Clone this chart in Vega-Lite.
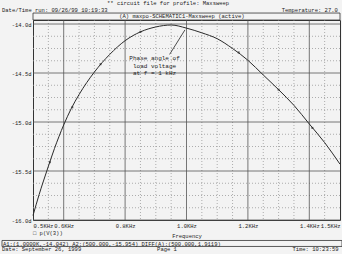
{
  "$schema": "https://vega.github.io/schema/vega-lite/v6.json",
  "width": 307,
  "height": 200,
  "autosize": "none",
  "padding": {"left": 33, "top": 20, "right": 2, "bottom": 34},
  "background": "#f3f3f3",
  "config": {
    "view": {"stroke": "#333333", "strokeWidth": 1, "fill": "#f3f3f3"},
    "font": "Liberation Mono",
    "axis": {"domain": false, "ticks": false, "grid": false, "labelFont": "Liberation Mono", "labelFontSize": 5.5, "labelColor": "#222222", "titleFont": "Liberation Mono", "titleFontSize": 5.5, "titleFontWeight": "normal", "titleColor": "#222222"}
  },
  "datasets": {
    "curve": [
      {"f": 0.5, "phase": -15.954},
      {"f": 0.52, "phase": -15.74},
      {"f": 0.546, "phase": -15.49},
      {"f": 0.57, "phase": -15.27},
      {"f": 0.6, "phase": -15.03},
      {"f": 0.625, "phase": -14.86},
      {"f": 0.65, "phase": -14.72},
      {"f": 0.7, "phase": -14.49},
      {"f": 0.75, "phase": -14.31},
      {"f": 0.8, "phase": -14.17},
      {"f": 0.85, "phase": -14.08},
      {"f": 0.9, "phase": -14.03},
      {"f": 0.95, "phase": -14.01},
      {"f": 1.0, "phase": -14.042},
      {"f": 1.05, "phase": -14.09},
      {"f": 1.1, "phase": -14.15},
      {"f": 1.15, "phase": -14.25},
      {"f": 1.2, "phase": -14.37},
      {"f": 1.25, "phase": -14.52},
      {"f": 1.3, "phase": -14.67},
      {"f": 1.35, "phase": -14.83},
      {"f": 1.4, "phase": -15.02},
      {"f": 1.45, "phase": -15.21},
      {"f": 1.5, "phase": -15.43}
    ],
    "markers": [
      {"f": 0.555, "phase": -15.41},
      {"f": 0.628, "phase": -14.85},
      {"f": 0.72, "phase": -14.41},
      {"f": 0.85, "phase": -14.08},
      {"f": 1.17, "phase": -14.29},
      {"f": 1.3, "phase": -14.67},
      {"f": 1.41, "phase": -15.06}
    ],
    "xMajor": [{"g": 0.6}, {"g": 0.8}, {"g": 1.0}, {"g": 1.2}, {"g": 1.4}],
    "xMinor": [{"g": 0.55}, {"g": 0.65}, {"g": 0.7}, {"g": 0.75}, {"g": 0.85}, {"g": 0.9}, {"g": 0.95}, {"g": 1.05}, {"g": 1.1}, {"g": 1.15}, {"g": 1.25}, {"g": 1.3}, {"g": 1.35}, {"g": 1.45}],
    "yMajor": [{"g": -14.0}, {"g": -14.5}, {"g": -15.0}, {"g": -15.5}, {"g": -16.0}],
    "yMinor": [{"g": -14.125}, {"g": -14.25}, {"g": -14.375}, {"g": -14.625}, {"g": -14.75}, {"g": -14.875}, {"g": -15.125}, {"g": -15.25}, {"g": -15.375}, {"g": -15.625}, {"g": -15.75}, {"g": -15.875}],
    "note": [
      {"t": "Phase angle of", "f": 0.896, "v": -14.347},
      {"t": "load voltage", "f": 0.896, "v": -14.429},
      {"t": "at f = 1 kHz", "f": 0.896, "v": -14.5}
    ],
    "leftText": [
      {"t": "Date/Time run: 09/26/99 10:19:33", "f": 0.399, "v": -13.857},
      {"t": "Temperature: 27.0", "f": 1.31, "v": -13.857},
      {"t": "□ p(V(3))", "f": 0.5, "v": -16.132},
      {"t": "A1:(1.0000K,-14.042)  A2:(500.000,-15.954)  DIFF(A):(500.000,1.9119)", "f": 0.402, "v": -16.24},
      {"t": "Date: September 26, 1999", "f": 0.399, "v": -16.301},
      {"t": "Time: 10:23:59", "f": 1.345, "v": -16.301}
    ],
    "centerText": [
      {"t": "** circuit file for profile: Maxsweep", "f": 0.94, "v": -13.786},
      {"t": "(A) maxpo-SCHEMATIC1-Maxsweep (active)", "f": 0.985, "v": -13.923},
      {"t": "Page 1", "f": 0.9365, "v": -16.301}
    ],
    "boxes": [
      {"f1": 0.5, "f2": 1.5, "v1": -13.959, "v2": -13.888},
      {"f1": 0.399, "f2": 1.5065, "v1": -16.209, "v2": -16.27}
    ]
  },
  "layer": [
    {
      "data": {"name": "xMinor"},
      "mark": {"type": "rule", "color": "#9a9a9a", "strokeWidth": 0.8, "strokeDash": [1, 2]},
      "encoding": {"x": {"field": "g", "type": "quantitative", "scale": {"domain": [0.5, 1.5], "nice": false, "zero": false}}}
    },
    {
      "data": {"name": "yMinor"},
      "mark": {"type": "rule", "color": "#9a9a9a", "strokeWidth": 0.8, "strokeDash": [1, 2]},
      "encoding": {"y": {"field": "g", "type": "quantitative", "scale": {"domain": [-16.0, -13.959], "nice": false, "zero": false}}}
    },
    {
      "data": {"name": "xMajor"},
      "mark": {"type": "rule", "color": "#555555", "strokeWidth": 0.8},
      "encoding": {"x": {"field": "g", "type": "quantitative"}}
    },
    {
      "data": {"name": "yMajor"},
      "mark": {"type": "rule", "color": "#555555", "strokeWidth": 0.8},
      "encoding": {"y": {"field": "g", "type": "quantitative"}}
    },
    {
      "data": {"name": "curve"},
      "mark": {"type": "line", "color": "#2a2a2a", "strokeWidth": 1, "interpolate": "monotone"},
      "encoding": {
        "x": {
          "field": "f", "type": "quantitative",
          "axis": {
            "values": [0.5, 0.6, 0.8, 1.0, 1.2, 1.4, 1.5],
            "labelExpr": "format(datum.value,'.1f')+'KHz'",
            "labelFlush": true,
            "labelOverlap": false,
            "labelPadding": 3,
            "title": "Frequency",
            "titlePadding": 5
          }
        },
        "y": {
          "field": "phase", "type": "quantitative",
          "axis": {
            "values": [-16, -15.5, -15, -14.5, -14],
            "labelExpr": "'-' + format(abs(datum.value),'.1f') + 'd'",
            "labelOverlap": false,
            "labelPadding": 2,
            "title": null
          }
        }
      }
    },
    {
      "data": {"name": "markers"},
      "mark": {"type": "point", "shape": "square", "size": 4, "filled": true, "color": "#222222"},
      "encoding": {
        "x": {"field": "f", "type": "quantitative"},
        "y": {"field": "phase", "type": "quantitative"}
      }
    },
    {
      "data": {"values": [{"fa": 0.945, "va": -14.31, "fb": 0.995, "vb": -14.06}]},
      "mark": {"type": "rule", "color": "#222222", "strokeWidth": 0.8},
      "encoding": {
        "x": {"field": "fa", "type": "quantitative"},
        "y": {"field": "va", "type": "quantitative"},
        "x2": {"field": "fb"},
        "y2": {"field": "vb"}
      }
    },
    {
      "data": {"name": "note"},
      "mark": {"type": "text", "fontSize": 6, "color": "#222222", "align": "center", "baseline": "middle", "font": "Liberation Mono"},
      "encoding": {
        "x": {"field": "f", "type": "quantitative"},
        "y": {"field": "v", "type": "quantitative"},
        "text": {"field": "t"}
      }
    },
    {
      "data": {"name": "boxes"},
      "mark": {"type": "rect", "fill": null, "stroke": "#333333", "strokeWidth": 0.8, "clip": false},
      "encoding": {
        "x": {"field": "f1", "type": "quantitative"},
        "x2": {"field": "f2"},
        "y": {"field": "v1", "type": "quantitative"},
        "y2": {"field": "v2"}
      }
    },
    {
      "data": {"name": "leftText"},
      "mark": {"type": "text", "fontSize": 5.5, "color": "#222222", "align": "left", "baseline": "middle", "font": "Liberation Mono", "clip": false},
      "encoding": {
        "x": {"field": "f", "type": "quantitative"},
        "y": {"field": "v", "type": "quantitative"},
        "text": {"field": "t"}
      }
    },
    {
      "data": {"name": "centerText"},
      "mark": {"type": "text", "fontSize": 5.5, "color": "#222222", "align": "center", "baseline": "middle", "font": "Liberation Mono", "clip": false},
      "encoding": {
        "x": {"field": "f", "type": "quantitative"},
        "y": {"field": "v", "type": "quantitative"},
        "text": {"field": "t"}
      }
    }
  ]
}
